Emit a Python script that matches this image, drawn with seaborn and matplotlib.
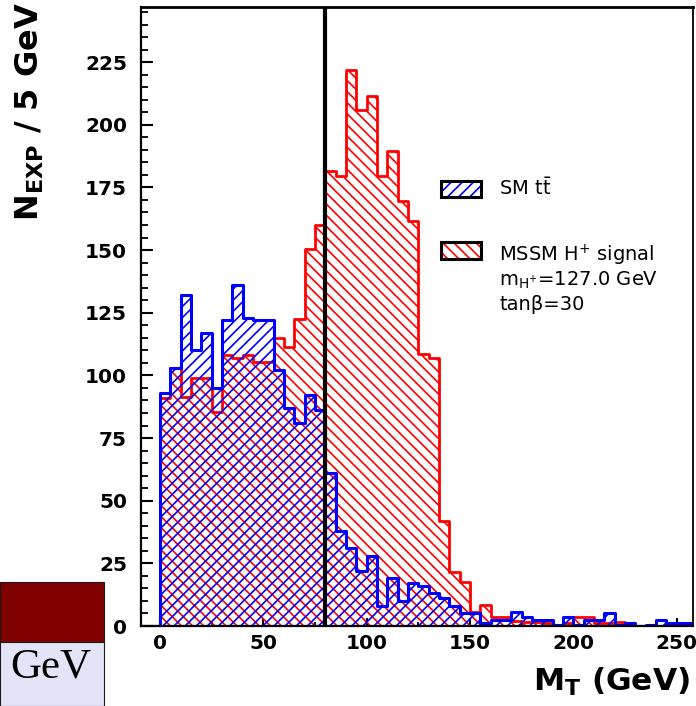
import numpy as np
import pandas as pd
import matplotlib
matplotlib.use("Agg")
import matplotlib.pyplot as plt
from matplotlib.patches import Rectangle
from matplotlib.ticker import MultipleLocator
import seaborn as sns

# Transverse-mass spectrum, 5 GeV bins starting at -10 GeV
bin_low = np.arange(-10, 260, 5)

sm_ttbar = [
    0, 0,
    93, 103, 132, 110, 117, 95, 122, 136, 123, 122,
    122, 102, 87, 81, 92, 86, 61, 38, 31, 22,
    28, 8, 19, 10, 17, 16, 13, 11, 8, 5,
    5, 1, 2.5, 2.5, 5.5, 3.5, 2.5, 2.5, 0.5, 3.5,
    0.5, 2.5, 2.5, 5, 0.5, 1, 0, 0.5, 2.5, 1,
    1, 1,
]
mssm_signal = [
    0, 0,
    91, 103, 91.5, 99, 99, 85.5, 108, 107, 108, 105.5,
    105.5, 115, 111.5, 122.5, 150.5, 160, 181.5, 179.5, 222, 206,
    211.5, 179.5, 189.5, 169.5, 161.5, 108.5, 107, 42, 21.5, 17.5,
    5.5, 8.3, 3.6, 3.6, 2, 1.5, 1.5, 1, 0.5, 1,
    3.6, 3.6, 1, 1, 1.5, 0.5, 0, 0, 0, 0,
    0, 0,
]
mt_cut = 80

legend_labels = [
    "SM $\\mathrm{t\\bar{t}}$",
    "MSSM H$^{+}$ signal",
    "m$_{\\mathrm{H}^{+}}$=127.0 GeV",
    "tan\u03b2=30",
]

W, H = 696, 706
sns.set_style("white")
plt.rcParams["font.family"] = ["DejaVu Sans"]
plt.rcParams["mathtext.fontset"] = "dejavusans"
plt.rcParams["hatch.linewidth"] = 1.2
for key in ("text.color", "axes.labelcolor", "xtick.color", "ytick.color",
            "axes.edgecolor"):
    plt.rcParams[key] = "black"

fig = plt.figure(figsize=(W / 100, H / 100), dpi=100)
ax = fig.add_axes([141 / W, 1 - 626 / H, (693.3 - 141) / W, (626 - 7) / H])

centers = bin_low + 2.5
df_sig = pd.DataFrame({"mt": centers, "n": mssm_signal})
df_sm = pd.DataFrame({"mt": centers, "n": sm_ttbar})

common = dict(x="mt", weights="n", binwidth=5, binrange=(-10, 260),
              element="step", fill=True, ax=ax)
sns.histplot(data=df_sig, color="#ff0000", facecolor="none",
             edgecolor="#ff0000", hatch="\\\\\\", linewidth=2.0, **common)
sns.histplot(data=df_sm, color="#0000ff", facecolor="none",
             edgecolor="#0000ff", hatch="///", linewidth=2.2, **common)

ax.axvline(mt_cut, color="black", lw=3.0, zorder=5)

ax.set_xlim(-9.2, 258)
ax.set_ylim(0, 247)
ax.set_xlabel("")
ax.set_ylabel("")

ax.xaxis.set_major_locator(MultipleLocator(50))
ax.xaxis.set_minor_locator(MultipleLocator(25))
ax.yaxis.set_major_locator(MultipleLocator(25))
ax.yaxis.set_minor_locator(MultipleLocator(5))
ax.tick_params(axis="y", which="major", direction="in", length=8.4, width=1.5,
               pad=10, labelsize=14.5, left=True, colors="black")
ax.tick_params(axis="y", which="minor", direction="in", length=4.8, width=1.3,
               left=True, colors="black")
ax.tick_params(axis="x", which="major", direction="in", length=6, width=1.5,
               pad=6, labelsize=14.5, bottom=True, colors="black")
ax.tick_params(axis="x", which="minor", direction="in", length=3, width=1.3,
               bottom=True, colors="black")
for lbl in ax.get_xticklabels() + ax.get_yticklabels():
    lbl.set_fontweight("bold")

for side, lw in (("top", 2.0), ("left", 1.6), ("right", 1.3), ("bottom", 1.6)):
    ax.spines[side].set_visible(True)
    ax.spines[side].set_color("black")
    ax.spines[side].set_linewidth(lw)


def fx(x):
    return x / W


def fy(y):
    return 1 - y / H


# Legend boxes: hatched swatch with a black frame
for (y0, y1), col, hatch in (((180.7, 197.3), "#0000ff", "///"),
                             ((241.7, 259.0), "#ff0000", "\\\\\\")):
    sw = Rectangle((fx(440.7), fy(y1)), 40 / W, (y1 - y0) / H,
                   facecolor="none", edgecolor=col, hatch=hatch, lw=0,
                   transform=fig.transFigure)
    fr = Rectangle((fx(440.7), fy(y1)), 40 / W, (y1 - y0) / H,
                   facecolor="none", edgecolor="black", lw=2.2,
                   transform=fig.transFigure)
    fig.add_artist(sw)
    fig.add_artist(fr)

fig.text(fx(499), fy(195), legend_labels[0], fontsize=14, va="baseline")
fig.text(fx(499), fy(261.7), legend_labels[1], fontsize=14, va="baseline")
fig.text(fx(499), fy(286), legend_labels[2], fontsize=14, va="baseline")
fig.text(fx(499), fy(310), legend_labels[3], fontsize=14, va="baseline")

# Axis titles
fig.text(fx(30), fy(2), "N$_{\\mathbf{EXP}}$ / 5 GeV", rotation=90,
         ha="center", va="top", fontsize=23, fontweight="bold")
fig.text(fx(690), fy(691), "M$_{\\mathbf{T}}$ (GeV)", ha="right",
         va="baseline", fontsize=22.5, fontweight="bold")

# Slide fragment in the lower-left corner
fig.add_artist(Rectangle((0, fy(642)), 104 / W, 60 / H, facecolor="#800000",
                         edgecolor="#1a1a1a", lw=0.8,
                         transform=fig.transFigure))
fig.add_artist(Rectangle((0, 0), 103.5 / W, (H - 642) / H,
                         facecolor="#e4e4f8", edgecolor="#1a1a1a", lw=0.8,
                         transform=fig.transFigure))
fig.text(fx(10), fy(677), "GeV", family="Liberation Serif", fontsize=31,
         va="baseline")

fig.savefig("out.png", dpi=100)
